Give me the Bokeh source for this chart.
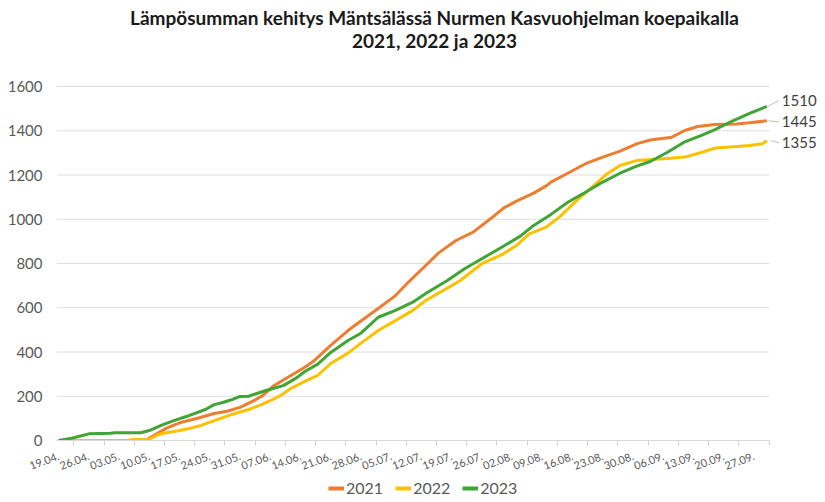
from bokeh.plotting import figure
from bokeh.layouts import column
from bokeh.models import FixedTicker, Legend, LegendItem, Label, Range1d
from bokeh.embed import file_html
from bokeh.resources import INLINE

# ---- data ----
week_labels = ["19.04.", "26.04.", "03.05.", "10.05.", "17.05.", "24.05.", "31.05.", "07.06.",
               "14.06.", "21.06.", "28.06.", "05.07.", "12.07.", "19.07.", "26.07.", "02.08.",
               "09.08.", "16.08.", "23.08.", "30.08.", "06.09.", "13.09.", "20.09.", "27.09."]
week_days = list(range(0, 162, 7))   # day index from 19.04.
n_days = 165                          # 19.04. - 30.09.

days_2021 = [0, 20, 22, 25, 28, 31, 33, 36, 39, 42, 45, 47, 50, 53, 57, 59, 63, 67, 70, 74,
             78, 81, 85, 88, 92, 96, 100, 103, 106, 110, 113, 114, 118, 122, 126, 130, 134,
             137, 142, 145, 148, 152, 157, 160, 164]
vals_2021 = [0, 0, 22, 56, 80, 95, 105, 122, 132, 150, 178, 200, 250, 285, 331, 358, 430, 497,
             540, 597, 655, 716, 791, 848, 904, 942, 1002, 1050, 1082, 1118, 1152, 1168, 1209,
             1251, 1281, 1308, 1342, 1358, 1371, 1401, 1419, 1428, 1431, 1436, 1445]

days_2022 = [0, 16, 17, 21, 23, 25, 28, 31, 33, 36, 38, 40, 44, 47, 50, 52, 54, 57, 60, 63,
             67, 70, 74, 78, 82, 85, 91, 93, 98, 103, 106, 109, 113, 116, 120, 124, 127, 130,
             134, 137, 141, 145, 149, 152, 157, 160, 163, 164]
vals_2022 = [0, 0, 4, 6, 26, 35, 45, 58, 68, 90, 103, 117, 140, 162, 189, 211, 238, 267, 294,
             348, 395, 440, 497, 542, 588, 633, 700, 723, 799, 844, 881, 934, 966, 1011, 1085,
             1153, 1206, 1243, 1266, 1270, 1275, 1281, 1303, 1322, 1329, 1333, 1341, 1355]

days_2023 = [0, 3, 7, 12, 13, 19, 21, 24, 27, 29, 30, 34, 36, 38, 40, 42, 44, 45, 48, 52, 55,
             57, 60, 63, 67, 70, 74, 78, 82, 85, 90, 94, 99, 103, 107, 110, 113, 114, 118, 122,
             126, 130, 134, 137, 141, 145, 149, 152, 156, 160, 164]
vals_2023 = [0, 10, 30, 33, 35, 35, 45, 71, 92, 105, 111, 140, 162, 172, 184, 199, 200, 207,
             226, 248, 282, 312, 345, 398, 452, 485, 557, 588, 625, 664, 723, 776, 833, 878,
             925, 972, 1009, 1022, 1078, 1122, 1168, 1208, 1241, 1261, 1303, 1350, 1380, 1405,
             1444, 1478, 1510]

series_names = ["2021", "2022", "2023"]
final_values = [1445, 1355, 1510]
y_ticks = list(range(0, 1601, 200))
title_lines = ["Lämpösumman kehitys Mäntsälässä Nurmen Kasvuohjelman koepaikalla",
               "2021, 2022 ja 2023"]

# ---- styles / geometry ----
colors = ["#ED7D31", "#FFC000", "#3FA535"]
label_dy = [-1, -2, 6]          # vertical nudge of end labels (px)
leader_start_dx = [1.5, 4, 1]   # px from last point
FONT = "Lato"
GRAY = "#595959"
W, H_MAIN, H_LEG = 825, 476, 26
FRAME_LEFT, AXIS_PY, TOP_GRID_PY, RIGHT_PX = 56, 440, 86, 768.5
LEGEND_LEFT_PX = 328
PX_PER_DAY = (RIGHT_PX - FRAME_LEFT) / n_days
VAL_PER_PX = y_ticks[-1] / (AXIS_PY - TOP_GRID_PY)
x0 = -0.5
x_end = x0 + (W - FRAME_LEFT) / PX_PER_DAY
y_end = AXIS_PY * VAL_PER_PX
def px_x(px): return x0 + (px - FRAME_LEFT) / PX_PER_DAY
def py_y(py): return (AXIS_PY - py) * VAL_PER_PX

p = figure(width=W, height=H_MAIN, output_backend="svg", toolbar_location=None,
           x_range=Range1d(x0, x_end), y_range=Range1d(0, y_end), title=None,
           min_border_left=FRAME_LEFT, min_border_right=0, min_border_top=0,
           min_border_bottom=H_MAIN - AXIS_PY)
p.outline_line_color = None
p.background_fill_color = "white"
p.xgrid.grid_line_color = None
p.ygrid.grid_line_color = None

# horizontal gridlines (limited to the data area)
p.segment(x0=[x0] * len(y_ticks), y0=y_ticks, x1=[x0 + n_days] * len(y_ticks), y1=y_ticks,
          line_color="#DEDEDE", line_width=1)

renderers = []
for d, v, c in zip([days_2021, days_2022, days_2023], [vals_2021, vals_2022, vals_2023], colors):
    r = p.line(d, v, line_color=c, line_width=3, line_join="round")
    renderers.append(r)

# axes
xa = p.xaxis[0]
xa.bounds = (x0, x0 + n_days)
xa.ticker = FixedTicker(ticks=week_days, minor_ticks=[d + 3.5 for d in week_days])
xa.major_label_overrides = {d: lab for d, lab in zip(week_days, week_labels)}
xa.major_label_orientation = 0.36
xa.major_label_text_font = FONT
xa.major_label_text_font_size = "11px"
xa.major_label_text_color = GRAY
xa.major_tick_line_color = None
xa.major_tick_out = 0
xa.major_tick_in = 0
xa.minor_tick_line_color = "#D0D0D0"
xa.minor_tick_out = 5
xa.minor_tick_in = 0
xa.axis_line_color = "#D9D9D9"
xa.major_label_standoff = 10

ya = p.yaxis[0]
ya.ticker = FixedTicker(ticks=y_ticks)
ya.major_label_text_font = FONT
ya.major_label_text_font_size = "15px"
ya.major_label_text_color = GRAY
ya.axis_line_color = None
ya.major_tick_line_color = None
ya.minor_tick_line_color = None
ya.major_tick_out = 0
ya.major_label_standoff = 14

# title (two centred lines)
for txt, py in zip(title_lines, [17, 40]):
    p.add_layout(Label(x=px_x(434), y=py_y(py), text=txt, text_align="center",
                       text_baseline="middle", text_font=FONT, text_font_size="19px",
                       text_font_style="bold", text_color="#1a1a1a"))

# end labels with leader lines
last_day = days_2023[-1]
lx0, ly0, lx1, ly1 = [], [], [], []
for v, dy, sdx in zip(final_values, label_dy, leader_start_dx):
    p.add_layout(Label(x=last_day, y=v, x_offset=15, y_offset=dy, text=str(v),
                       text_font=FONT, text_font_size="15px", text_color="#404040",
                       text_baseline="middle", text_align="left"))
    lx0.append(last_day + sdx / PX_PER_DAY)
    ly0.append(v)
    lx1.append(last_day + 12 / PX_PER_DAY)
    ly1.append(v + dy * VAL_PER_PX)
p.segment(x0=lx0, y0=ly0, x1=lx1, y1=ly1, line_color="#BFBFBF", line_width=1)

# legend row (legend-only strip; its sample lines lie outside its visible range)
pl = figure(width=W, height=H_LEG, output_backend="svg", toolbar_location=None,
            x_axis_type=None, y_axis_type=None, x_range=Range1d(0, 1), y_range=Range1d(0, 1),
            min_border=0, title=None)
pl.outline_line_color = None
leg_r = [pl.line([5, 6], [5, 6], line_color=c, line_width=4) for c in colors]
legend = Legend(items=[LegendItem(label=n, renderers=[r]) for n, r in zip(series_names, leg_r)],
                orientation="horizontal", location=(LEGEND_LEFT_PX - FRAME_LEFT, 5),
                border_line_color=None, background_fill_alpha=0,
                label_text_font=FONT, label_text_font_size="16px", label_text_color=GRAY,
                glyph_width=16, glyph_height=18, label_standoff=2, spacing=12,
                padding=0, margin=0)
pl.add_layout(legend, "center")

layout = column(p, pl, spacing=0)
open("out.html", "w").write(file_html(layout, INLINE))
